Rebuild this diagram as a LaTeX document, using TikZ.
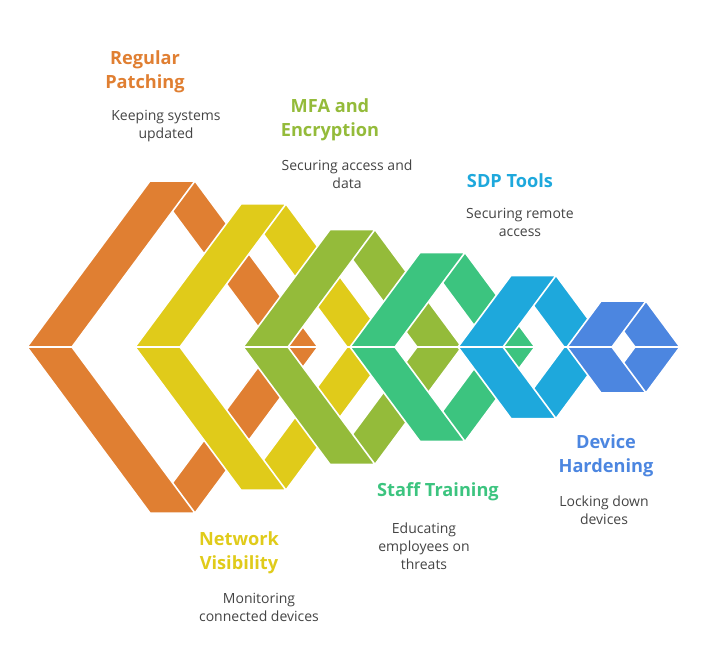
\documentclass[tikz,border=0pt]{standalone}
\usepackage{fontspec}
\setmainfont{Open Sans}
\definecolor{cOr}{HTML}{E07F32}
\definecolor{cYe}{HTML}{E0CB1A}
\definecolor{cGr}{HTML}{94BB3A}
\definecolor{cTe}{HTML}{3CC47F}
\definecolor{cBl}{HTML}{1EA8DC}
\definecolor{cDb}{HTML}{4C86E0}
\definecolor{cTx}{HTML}{444444}
\begin{document}
\begin{tikzpicture}[x=1pt,y=-1pt,
  band/.style={draw=white,line width=1.6pt,line join=miter},
  ttl/.style={font=\fontsize{18.2}{24}\selectfont\bfseries,align=center},
  dsc/.style={font=\fontsize{14}{18}\selectfont,text=cTx,align=center}]
\useasboundingbox (0,0) rectangle (720,649);
\def\w{45}
\def\yo{347}
% right bands first
\foreach \cx/\a/\c in {172.5/145.5/cOr,263.5/128.5/cYe,352.5/109.5/cGr,442.5/92.5/cTe,533.5/75.5/cBl,623.5/56.5/cDb}{
  \pgfmathsetmacro\h{1.35*(\a-\w/2)}
  \fill[band,fill=\c] ({\cx-\w/2},{\yo-\h}) -- ({\cx+\w/2},{\yo-\h}) -- ({\cx+\a},\yo) -- ({\cx+\a-\w},\yo) -- cycle;
  \fill[band,fill=\c] ({\cx-\w/2},{\yo+\h}) -- ({\cx+\w/2},{\yo+\h}) -- ({\cx+\a},\yo) -- ({\cx+\a-\w},\yo) -- cycle;
}
\foreach \cx/\a/\c in {172.5/145.5/cOr,263.5/128.5/cYe,352.5/109.5/cGr,442.5/92.5/cTe,533.5/75.5/cBl,623.5/56.5/cDb}{
  \pgfmathsetmacro\h{1.35*(\a-\w/2)}
  \fill[band,fill=\c] ({\cx-\a},\yo) -- ({\cx-\w/2},{\yo-\h}) -- ({\cx+\w/2},{\yo-\h}) -- ({\cx-\a+\w},\yo) -- cycle;
  \fill[band,fill=\c] ({\cx-\a},\yo) -- ({\cx-\w/2},{\yo+\h}) -- ({\cx+\w/2},{\yo+\h}) -- ({\cx-\a+\w},\yo) -- cycle;
}
\node[ttl,text=cOr] (t1) at (145,72) {Regular\\Patching};
\node[dsc] (d1) at (166,126) {Keeping systems\\updated};
\node[ttl,text=cGr] (t2) at (330,120) {MFA and\\Encryption};
\node[dsc] (d2) at (347,174) {Securing access and\\data};
\node[ttl,text=cBl] (t3) at (510,181) {SDP Tools};
\node[dsc] (d3) at (520,222) {Securing remote\\access};
\node[ttl,text=cDb] (t4) at (606,456) {Device\\Hardening};
\node[dsc] (d4) at (604,510) {Locking down\\devices};
\node[ttl,text=cTe] (t5) at (438,492) {Staff Training};
\node[dsc] (d5) at (424,546) {Educating\\employees on\\threats};
\node[ttl,text=cYe] (t6) at (239,553) {Network\\Visibility};
\node[dsc] (d6) at (259,607) {Monitoring\\connected devices};
\end{tikzpicture}
\end{document}
